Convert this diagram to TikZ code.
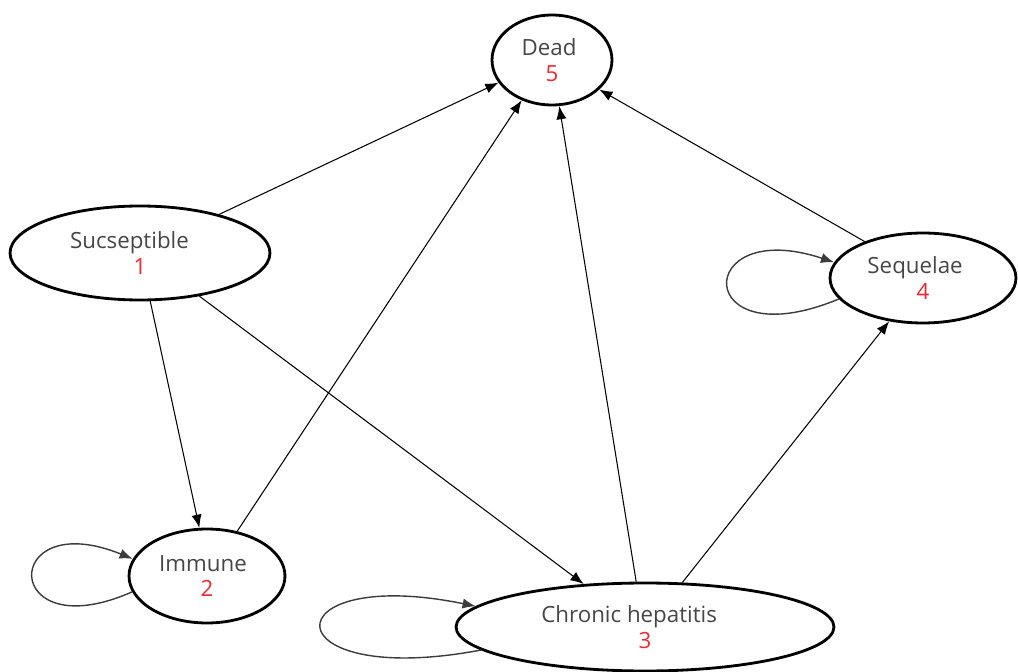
\documentclass[tikz,border=0pt]{standalone}
\usepackage{fontspec}
\setmainfont{Open Sans}
\usetikzlibrary{shapes.geometric,arrows.meta}
\definecolor{txtgray}{RGB}{70,70,70}
\definecolor{numred}{RGB}{240,40,50}
\definecolor{loopgray}{RGB}{60,60,60}
\newcommand\stnum[1]{\textcolor{numred}{#1}}
\tikzset{
  state/.style={ellipse, draw=black, line width=1.6pt, inner sep=0pt, outer sep=0.8pt,
    align=center, text=txtgray, font=\fontsize{12.7}{14.7}\selectfont},
  trans/.style={draw=black, line width=0.6pt, -{Latex[length=7.5pt,width=5.8pt]}},
  selfloop/.style={draw=loopgray, line width=0.8pt, -{Latex[length=7.5pt,width=5.8pt]}},
}
\begin{document}
\begin{tikzpicture}[x=0.02cm,y=-0.02cm]
\useasboundingbox (0,0) rectangle (1018,672);
\node[state, minimum width=2.4cm, minimum height=1.8cm] (dead) at (552,60) {Dead\kern3.4pt\\\stnum{5}};
\node[state, minimum width=5.2cm, minimum height=1.88cm] (sus) at (140,253) {Sucseptible\kern12pt\\\stnum{1}};
\node[state, minimum width=3.12cm, minimum height=1.88cm] (imm) at (207,576) {Immune\kern4.5pt\\\stnum{2}};
\node[state, minimum width=7.56cm, minimum height=1.76cm] (chr) at (645,627) {Chronic hepatitis\kern18pt\\\stnum{3}};
\node[state, minimum width=3.72cm, minimum height=1.8cm] (seq) at (923,278) {Sequelae\kern9pt\\\stnum{4}};

\draw[trans] (sus.26) -- (dead.203.2);
\draw[trans] (imm.56) -- (dead.233.6);
\draw[trans] (chr.101.6) -- (dead.279.9);
\draw[trans] (seq.148.6) -- (dead.328.9);
\draw[trans] (sus.282) -- (imm.99.5);
\draw[trans] (sus.324.4) -- (chr.145.9);
\draw[trans] (chr.50) -- (seq.232.1);

\draw[selfloop] (seq.194) .. controls (692,360) and (692,215) .. (seq.170.1);
\draw[selfloop] (imm.192.9) .. controls (0,650) and (0,505) .. (imm.167.8);
\draw[selfloop] (chr.188.4) .. controls (269,690) and (269,564) .. (chr.173.7);
\end{tikzpicture}
\end{document}
